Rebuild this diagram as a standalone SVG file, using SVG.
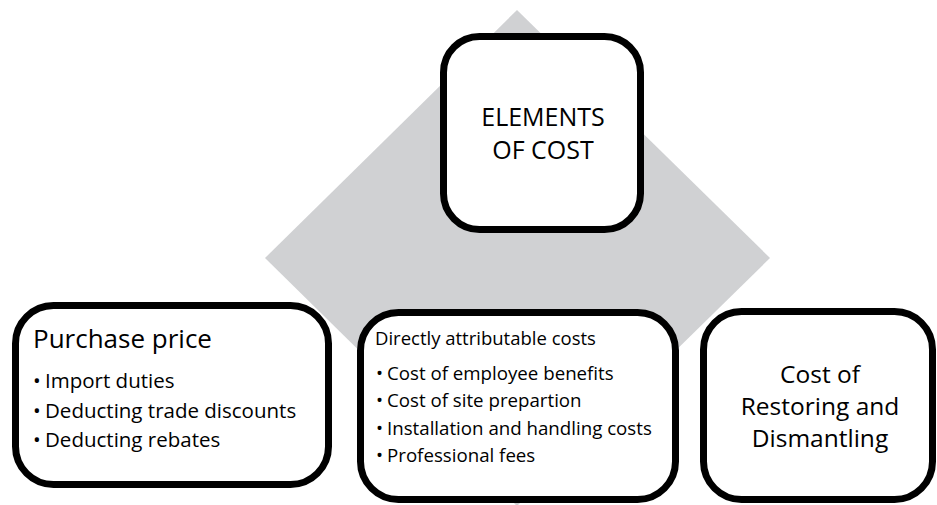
<svg xmlns="http://www.w3.org/2000/svg" width="937" height="505" viewBox="0 0 937 505">
<style>
.box{fill:#fff;stroke:#000;stroke-width:7}
.t{font-family:"Open Sans","Liberation Sans",sans-serif;fill:#000}
</style>
<rect width="937" height="505" fill="#fff"/>
<g id="backdrop">
<polygon points="517,10 770,258 517,506 265,258" fill="#d0d1d3"/>
</g>
<g id="connectors"></g>
<g id="elements">
<rect class="box" x="443.5" y="36.5" width="197" height="193" rx="36"/>
<text class="t" font-size="25" text-anchor="middle"><tspan x="543" y="125.5">ELEMENTS</tspan><tspan x="543" y="158.5">OF COST</tspan></text>
</g>
<g id="purchase">
<rect class="box" x="15.5" y="305.5" width="313" height="179" rx="38"/>
<text class="t" font-size="26" x="33" y="348">Purchase price</text>
<text class="t" font-size="20.5"><tspan x="33" y="388">•</tspan><tspan x="45">Import duties</tspan><tspan x="33" y="418">•</tspan><tspan x="45">Deducting trade discounts</tspan><tspan x="33" y="447">•</tspan><tspan x="45">Deducting rebates</tspan></text>
</g>
<g id="direct">
<rect class="box" x="360.5" y="312.5" width="315" height="187" rx="38"/>
<text class="t" font-size="18.5" x="375" y="345">Directly attributable costs</text>
<text class="t" font-size="18.7"><tspan x="376" y="380">•</tspan><tspan x="387">Cost of employee benefits</tspan><tspan x="376" y="407">•</tspan><tspan x="387">Cost of site prepartion</tspan><tspan x="376" y="435">•</tspan><tspan x="387">Installation and handling costs</tspan><tspan x="376" y="462">•</tspan><tspan x="387">Professional fees</tspan></text>
</g>
<g id="restoring">
<rect class="box" x="703.5" y="311.5" width="229" height="188" rx="38"/>
<text class="t" font-size="24.5" text-anchor="middle"><tspan x="820" y="383">Cost of</tspan><tspan x="820" y="415">Restoring and</tspan><tspan x="820" y="447">Dismantling</tspan></text>
</g>
</svg>
